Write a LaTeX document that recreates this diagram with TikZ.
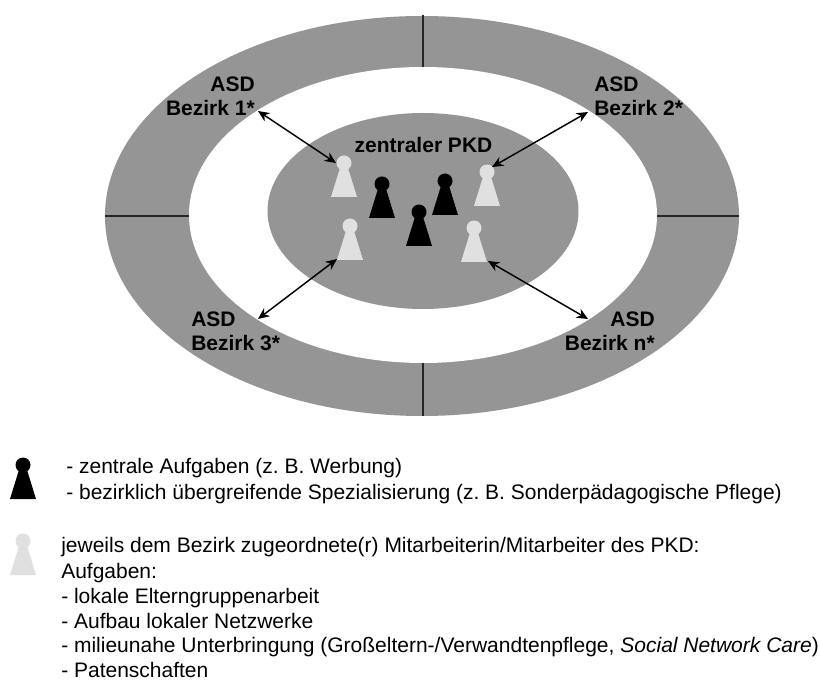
\documentclass[tikz,border=0pt]{standalone}
\usepackage{fontspec}
\setmainfont{Liberation Sans}
\usetikzlibrary{arrows.meta}
\definecolor{ringgray}{gray}{0.585}
\definecolor{lightpawn}{gray}{0.88}
\tikzset{
  ring/.style={fill=ringgray,draw=none},
  divider/.style={draw=black!85,line width=0.8pt},
  link/.style={draw=black,line width=1.1pt,{Stealth[length=8.5pt,width=7.5pt]}-{Stealth[length=8.5pt,width=7.5pt]}},
  areatext/.style={font=\fontsize{15.75}{18}\selectfont\bfseries,inner sep=0pt},
  legendtext/.style={font=\fontsize{15.75}{18}\selectfont\frenchspacing,anchor=base west,inner sep=0pt},
  pawn/.pic={
    \fill[pic actions] (-13,34) -- (-2.5,0) -- (2.5,0) -- (13,34) -- cycle;
    \fill[pic actions] (0,0) circle[radius=7.5];
  }
}
\begin{document}
\begin{tikzpicture}[x=0.75pt,y=-0.75pt]
\useasboundingbox (0,0) rectangle (820,680);
\fill[white] (0,0) rectangle (820,680);
\fill[ring] (422,216) ellipse[x radius=317,y radius=200];
\fill[white] (423,215) ellipse[x radius=234,y radius=148];
\fill[ring] (423,211) ellipse[x radius=155.5,y radius=98];
\coordinate (dt1) at (423,15); \coordinate (dt2) at (423,67);
\coordinate (db1) at (423,363); \coordinate (db2) at (423,416);
\coordinate (dl1) at (105,216); \coordinate (dl2) at (189,216);
\coordinate (dr1) at (657,216); \coordinate (dr2) at (739,216);
\draw[divider] (dt1) -- (dt2);
\draw[divider] (db1) -- (db2);
\draw[divider] (dl1) -- (dl2);
\draw[divider] (dr1) -- (dr2);
\pic[fill=lightpawn] at (344,163) {pawn};
\pic[fill=lightpawn] at (487,172) {pawn};
\pic[fill=lightpawn] at (350,226) {pawn};
\pic[fill=lightpawn] at (474,228) {pawn};
\pic[fill=black] at (382,184) {pawn};
\pic[fill=black] at (445,181) {pawn};
\pic[fill=black] at (419,212) {pawn};
\pic[fill=black] at (23,465) {pawn};
\pic[fill=lightpawn] at (23,541) {pawn};
\node[areatext,align=right,anchor=east] (b1) at (255,96) {ASD\\Bezirk 1*};
\node[areatext,align=left,anchor=west] (b2) at (594,96) {ASD\\Bezirk 2*};
\node[areatext,align=left,anchor=west] (b3) at (191,331.5) {ASD\\Bezirk 3*};
\node[areatext,align=right,anchor=east] (bn) at (655,331.5) {ASD\\Bezirk n*};
\node[areatext,anchor=base] (pkd) at (423.5,153) {zentraler PKD};
\coordinate (a1) at (258,111); \coordinate (p1) at (336,163);
\coordinate (a2) at (588,112); \coordinate (p2) at (492,167);
\coordinate (a3) at (258,319); \coordinate (p3) at (337,259);
\coordinate (a4) at (588,319); \coordinate (p4) at (488,261);
\draw[link] (a1) -- (p1);
\draw[link] (a2) -- (p2);
\draw[link] (a3) -- (p3);
\draw[link] (a4) -- (p4);
\node[legendtext] (l1) at (66,473) {- zentrale Aufgaben (z. B. Werbung)};
\node[legendtext] (l2) at (66,499.5) {- bezirklich übergreifende Spezialisierung (z. B. Sonderpädagogische Pflege)};
\node[legendtext] (l3) at (61,552) {jeweils dem Bezirk zugeordnete(r) Mitarbeiterin/Mitarbeiter des PKD:};
\node[legendtext] (l4) at (61,578) {Aufgaben:};
\node[legendtext] (l5) at (61,603) {- lokale Elterngruppenarbeit};
\node[legendtext] (l6) at (61,628) {- Aufbau lokaler Netzwerke};
\node[legendtext] (l7) at (61,652.5) {- milieunahe Unterbringung (Großeltern-/Verwandtenpflege, \textit{Social Network Care})};
\node[legendtext] (l8) at (61,677) {- Patenschaften};
\end{tikzpicture}
\end{document}
